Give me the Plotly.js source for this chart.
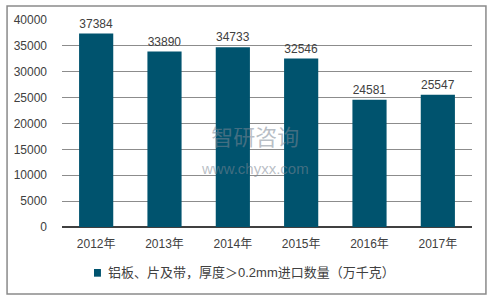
<!DOCTYPE html>
<html><head><meta charset="utf-8">
<script src="https://cdn.plot.ly/plotly-3.0.1.min.js"></script>
<style>html,body{margin:0;padding:0;background:#fff;}</style>
</head><body>
<div id="chart" style="width:495px;height:301px;"></div>
<script>
var years = ["2012年","2013年","2014年","2015年","2016年","2017年"];
var values = [37384, 33890, 34733, 32546, 24581, 25547];
var seriesName = "铝板、片及带，厚度＞0.2mm进口数量（万千克）";
var yTicks = [0,5000,10000,15000,20000,25000,30000,35000,40000];

var font = "Liberation Sans, Arial, Noto Sans CJK SC, sans-serif";
var barColor = "#00536E";
var trace = {
  type: "bar",
  x: years,
  y: values,
  name: seriesName,
  marker: {color: barColor},
  text: values.map(String),
  textposition: "outside",
  textfont: {color: "#404040", size: 12, family: font},
  cliponaxis: false,
  showlegend: false
};
var wm = "rgba(125,135,148,0.55)";
var layout = {
  width: 495, height: 301,
  margin: {l: 62, r: 23, t: 20, b: 74},
  paper_bgcolor: "#fff", plot_bgcolor: "#fff",
  font: {family: font, color: "#404040", size: 12},
  bargap: 0.5,
  xaxis: {type: "category", showgrid: false, showline: false, ticks: "", tickfont: {size: 12}, ticklabelstandoff: 8, fixedrange: true},
  yaxis: {range: [0, 40000], tickvals: yTicks, ticktext: yTicks.map(String), showgrid: true, gridcolor: "#8c8c8c", gridwidth: 1,
          zeroline: true, zerolinecolor: "#404040", zerolinewidth: 1.5, showline: false, ticks: "", ticklabelstandoff: 14, tickfont: {size: 12}},
  showlegend: false,
  shapes: [
    {type: "rect", xref: "paper", yref: "paper", x0: -0.134, x1: 1.034, y0: -0.324, y1: 1.068, line: {color: "#8a8a8a", width: 1.5}},
    {type: "rect", xref: "paper", yref: "paper", x0: 0.078, x1: 0.095, y0: -0.203, y1: -0.240, fillcolor: barColor, line: {width: 0}}
  ],
  annotations: [
    {xref: "paper", yref: "paper", x: 0.107, y: -0.222, xanchor: "left", yanchor: "middle", text: seriesName, showarrow: false, font: {size: 13, color: "#404040", family: font}},
    {xref: "paper", yref: "paper", x: 0.47, y: 0.365, yanchor: "middle", text: "智研咨询<br><span style='font-size:15px'>www.chyxx.com</span>", showarrow: false, font: {size: 22, color: wm, family: "Liberation Sans, Noto Sans CJK SC"}}
  ]
};
Plotly.newPlot("chart", [trace], layout, {displayModeBar: false, staticPlot: true});
</script>
</body></html>
